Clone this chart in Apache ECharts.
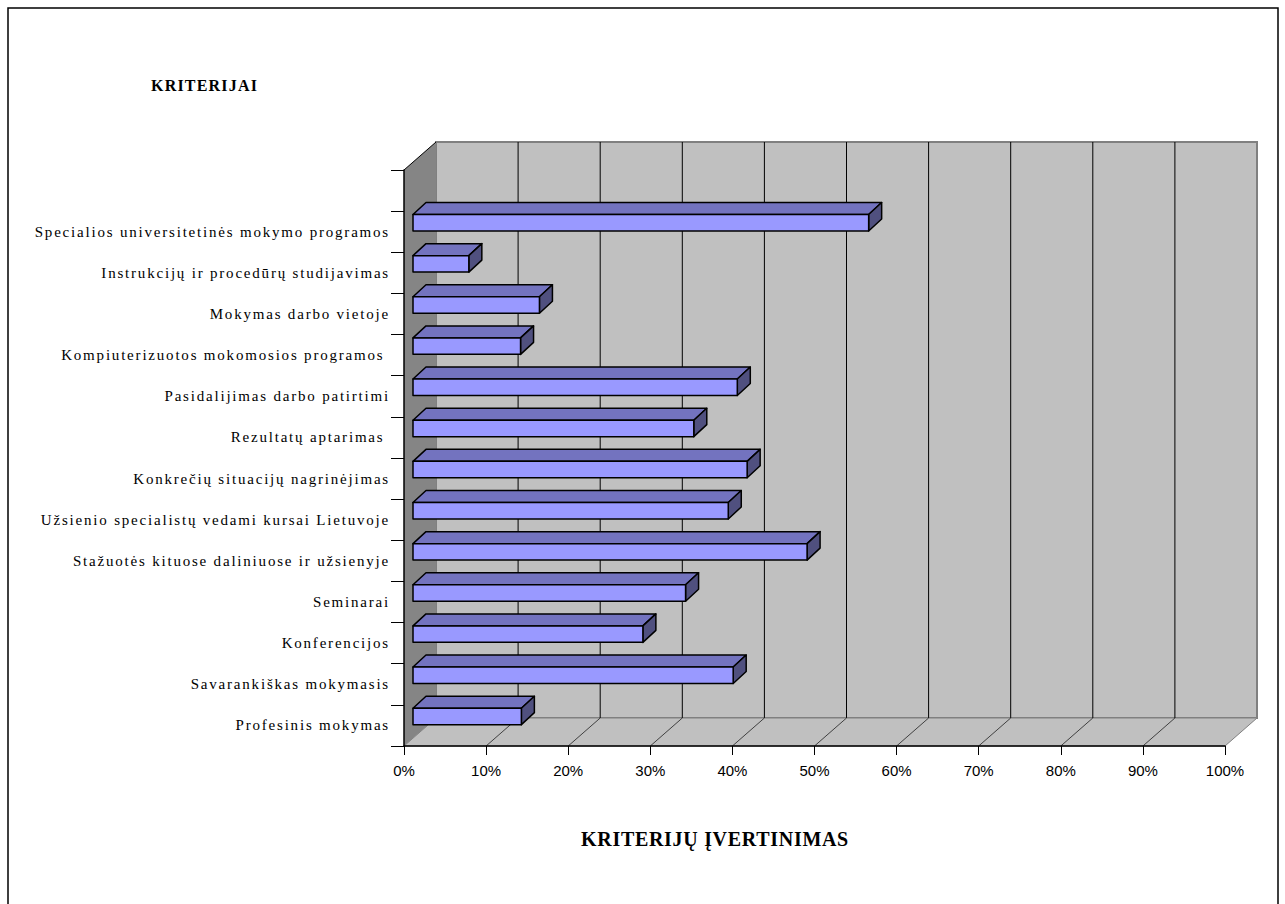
<!DOCTYPE html>
<html>
<head>
<meta charset="utf-8">
<script src="https://cdn.jsdelivr.net/npm/echarts@6/dist/echarts.min.js"></script>
<style>
  html, body { margin: 0; padding: 0; background: #fff; }
  #chart { width: 1285px; height: 904px; }
</style>
</head>
<body>
<div id="chart"></div>
<script>
// kategorijos iš apačios į viršų (paskutinė tuščia, kaip originale)
const categories = [
  'Profesinis mokymas',
  'Savarankiškas mokymasis',
  'Konferencijos',
  'Seminarai',
  'Stažuotės kituose daliniuose ir užsienyje',
  'Užsienio specialistų vedami kursai Lietuvoje',
  'Konkrečių situacijų nagrinėjimas',
  'Rezultatų aptarimas ',
  'Pasidalijimas darbo patirtimi',
  'Kompiuterizuotos mokomosios programos ',
  'Mokymas darbo vietoje',
  'Instrukcijų ir procedūrų studijavimas',
  'Specialios universitetinės mokymo programos',
  ''
];
const values = [13.2, 39.0, 28.0, 33.2, 48.0, 38.4, 40.7, 34.2, 39.5, 13.1, 15.4, 6.8, 55.5, null];
const xTicks = [0, 10, 20, 30, 40, 50, 60, 70, 80, 90, 100];

// 3D imitacija (pikseliais)
const DEPTH = [32, -28];     // sienos gylis
const BAR_OFF = [9, -9];     // stulpelio priekio poslinkis
const BAR_DEPTH = [13, -12]; // stulpelio gylis

const chart = echarts.init(document.getElementById('chart'), null, { renderer: 'svg' });

function renderWalls(params, api) {
  const cs = params.coordSys;
  const x0 = cs.x, x1 = cs.x + cs.width, y0 = cs.y, y1 = cs.y + cs.height;
  const [dx, dy] = DEPTH;
  const children = [
    // galinė siena
    { type: 'rect', shape: { x: x0 + dx, y: y0 + dy, width: cs.width, height: cs.height },
      style: { fill: '#c0c0c0', stroke: '#808080', lineWidth: 2 } },
    // grindys
    { type: 'polygon', shape: { points: [[x0, y1], [x1, y1], [x1 + dx, y1 + dy], [x0 + dx, y1 + dy]] },
      style: { fill: '#c0c0c0', stroke: '#808080', lineWidth: 1 } },
    // kairė siena
    { type: 'polygon', shape: { points: [[x0, y0], [x0 + dx, y0 + dy], [x0 + dx, y1 + dy], [x0, y1]] },
      style: { fill: '#858585' } },
    { type: 'line', shape: { x1: x0, y1: y0, x2: x0 + dx, y2: y0 + dy },
      style: { stroke: '#000', lineWidth: 1 } }
  ];
  xTicks.slice(1, -1).forEach((v) => {
    const px = api.coord([v, 0])[0];
    children.push({ type: 'line', shape: { x1: px + dx, y1: y0 + dy, x2: px + dx, y2: y1 + dy },
      style: { stroke: '#000', lineWidth: 1 } });
    children.push({ type: 'line', shape: { x1: px, y1: y1, x2: px + dx, y2: y1 + dy },
      style: { stroke: '#404040', lineWidth: 1 } });
  });
  return { type: 'group', children };
}

function renderBar(params, api) {
  const v = api.value(0), i = api.value(1);
  const p0 = api.coord([0, i]);
  const p1 = api.coord([v, i]);
  const h = api.size([0, 1])[1] * 0.4;
  const left = p0[0] + BAR_OFF[0];
  const right = p1[0] + BAR_OFF[0];
  const top = p0[1] + BAR_OFF[1] - h / 2;
  const bottom = top + h;
  const [bx, by] = BAR_DEPTH;
  const edge = { stroke: '#000', lineWidth: 1.5, lineJoin: 'round' };
  return {
    type: 'group',
    children: [
      { type: 'polygon', shape: { points: [[left, top], [right, top], [right + bx, top + by], [left + bx, top + by]] },
        style: Object.assign({ fill: '#7373bf' }, edge) },
      { type: 'polygon', shape: { points: [[right, top], [right + bx, top + by], [right + bx, bottom + by], [right, bottom]] },
        style: Object.assign({ fill: '#50507f' }, edge) },
      { type: 'rect', shape: { x: left, y: top, width: right - left, height: h },
        style: Object.assign({ fill: '#9999ff' }, edge) }
    ]
  };
}

const barData = values.map((v, i) => [v, i]).filter((d) => d[0] !== null);

chart.setOption({
  backgroundColor: '#fff',
  animation: false,
  title: [
    { text: 'KRITERIJAI', left: 151, top: 77, padding: 0,
      textStyle: { fontFamily: 'Liberation Serif', fontWeight: 'bold', fontSize: 16, color: '#000' } },
    { text: 'KRITERIJŲ ĮVERTINIMAS', left: 581, top: 829, padding: 0,
      textStyle: { fontFamily: 'Liberation Serif', fontWeight: 'bold', fontSize: 20, color: '#000' } }
  ],
  graphic: [
    { type: 'rect', shape: { x: 8, y: 8, width: 1270, height: 920 },
      style: { fill: 'none', stroke: '#000', lineWidth: 1.5 }, silent: true }
  ],
  grid: { left: 404, right: 60, top: 170, bottom: 158, containLabel: false },
  xAxis: {
    type: 'value', min: 0, max: 100, interval: 10, z: 5,
    axisLine: { show: true, lineStyle: { color: '#000', width: 1.5 } },
    axisTick: { show: true, length: 9, lineStyle: { color: '#000', width: 1 } },
    splitLine: { show: false },
    axisLabel: { formatter: '{value}%', margin: 17, fontFamily: 'Liberation Sans', fontSize: 15, color: '#000' }
  },
  yAxis: {
    type: 'category', data: categories, z: 5,
    axisLine: { show: true, lineStyle: { color: '#000', width: 1.5 } },
    axisTick: { show: true, length: 13, lineStyle: { color: '#000', width: 1 } },
    splitLine: { show: false },
    axisLabel: { margin: 14, fontFamily: 'Liberation Serif', fontSize: 15, color: '#000' }
  },
  series: [
    { type: 'custom', name: 'walls', renderItem: renderWalls, data: [[0, 0]], z: 1, silent: true },
    { type: 'custom', name: 'Kriterijai', renderItem: renderBar, data: barData, z: 10,
      encode: { x: 0, y: 1 } }
  ]
});

// originalo serif tekstas išretintas — pridedam tarpus tarp raidžių
function spaceSerifText() {
  document.querySelectorAll('#chart svg text').forEach((t) => {
    const cs = getComputedStyle(t);
    if (cs.fontFamily.indexOf('Serif') < 0) return;
    const size = parseFloat(cs.fontSize);
    const spacing = size >= 20 ? 0.7 : (cs.fontWeight >= 600 || cs.fontWeight === 'bold') ? 1.2 : 1.8;
    t.style.letterSpacing = spacing + 'px';
  });
}
spaceSerifText();
chart.on('finished', spaceSerifText);
</script>
</body>
</html>
